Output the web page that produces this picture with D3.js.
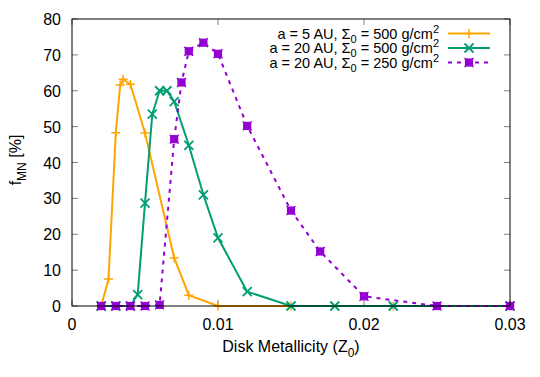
<!DOCTYPE html>
<html>
<head>
<meta charset="utf-8">
<script src="https://cdn.jsdelivr.net/npm/d3@7"></script>
<style>
  body { margin: 0; background: #fff; }
  text { font-family: "Liberation Sans", Arial, sans-serif; }
</style>
</head>
<body>
<script>
'use strict';

// data
const z5_500 = [0.002, 0.0025, 0.003, 0.0033, 0.0035, 0.004, 0.005, 0.007, 0.008, 0.01, 0.015, 0.022, 0.03];
const f5_500 = [0, 7.5, 48.3, 61.6, 63.2, 61.8, 48.2, 13.4, 3, 0, 0, 0, 0];

const z20_500 = [0.002, 0.003, 0.004, 0.0045, 0.005, 0.0055, 0.006, 0.0065, 0.007, 0.008, 0.009, 0.01, 0.012, 0.015, 0.018, 0.022, 0.03];
const f20_500 = [0, 0, 0, 3.2, 28.7, 53.5, 60, 60, 57, 44.8, 31, 19, 4, 0, 0, 0, 0];

const z20_250 = [0.002, 0.003, 0.004, 0.005, 0.006, 0.007, 0.0075, 0.008, 0.009, 0.01, 0.012, 0.015, 0.017, 0.02, 0.025, 0.03];
const f20_250 = [0, 0, 0, 0, 0.3, 46.5, 62.3, 71, 73.4, 70.3, 50.2, 26.6, 15.2, 2.7, 0, 0];

const xTicks = [0, 0.01, 0.02, 0.03];
const yTicks = [0, 10, 20, 30, 40, 50, 60, 70, 80];

const series = [
  { label: ["a = 5 AU, ", "500"], xs: z5_500, ys: f5_500, color: "#ffa500", marker: "plus", dash: null },
  { label: ["a = 20 AU, ", "500"], xs: z20_500, ys: f20_500, color: "#009e73", marker: "cross", dash: null },
  { label: ["a = 20 AU, ", "250"], xs: z20_250, ys: f20_250, color: "#9400d3", marker: "box", dash: "4,5" }
];

const W = 540, H = 377;
const pl = 72, pr = 510, pt = 19, pb = 306;

const svg = d3.select("body").append("svg")
  .attr("width", W).attr("height", H);

const x = d3.scaleLinear().domain([0, 0.03]).range([pl, pr]);
const y = d3.scaleLinear().domain([0, 80]).range([pb, pt]);

// ticks (inside, mirrored)
const tk = 6;
const g = svg.append("g");
xTicks.forEach(v => {
  g.append("line").attr("x1", x(v)).attr("x2", x(v)).attr("y1", pb).attr("y2", pb - tk).attr("stroke", "#808080");
  g.append("line").attr("x1", x(v)).attr("x2", x(v)).attr("y1", pt).attr("y2", pt + tk).attr("stroke", "#808080");
  g.append("text").attr("x", x(v)).attr("y", pb + 24).attr("text-anchor", "middle")
    .attr("font-size", 16).text(v === 0 ? "0" : d3.format(".2f")(v));
});
yTicks.forEach(v => {
  g.append("line").attr("x1", pl).attr("x2", pl + tk).attr("y1", y(v)).attr("y2", y(v)).attr("stroke", "#808080");
  g.append("line").attr("x1", pr).attr("x2", pr - tk).attr("y1", y(v)).attr("y2", y(v)).attr("stroke", "#808080");
  g.append("text").attr("x", pl - 11).attr("y", y(v) + 6).attr("text-anchor", "end")
    .attr("font-size", 16).text(v);
});

// axis titles
svg.append("text").attr("x", (pl + pr) / 2).attr("y", 352).attr("text-anchor", "middle")
  .attr("font-size", 16)
  .call(t => {
    t.append("tspan").text("Disk Metallicity (Z");
    t.append("tspan").attr("font-size", 12).attr("dy", 5).text("0");
    t.append("tspan").attr("dy", -5).text(")");
  });
svg.append("text").attr("transform", "translate(21,160) rotate(-90)")
  .attr("text-anchor", "middle").attr("font-size", 16)
  .call(t => {
    t.append("tspan").text("f");
    t.append("tspan").attr("font-size", 12).attr("dy", 5).text("MN");
    t.append("tspan").attr("dy", -5).text(" [%]");
  });

function drawMarker(sel, type, color, cx, cy) {
  const s = 4.5;
  if (type === "plus") {
    sel.append("path").attr("d", `M${cx - s},${cy}H${cx + s}M${cx},${cy - s}V${cy + s}`)
      .attr("stroke", color).attr("stroke-width", 1.5).attr("fill", "none");
  } else if (type === "cross") {
    sel.append("path").attr("d", `M${cx - s},${cy - s}L${cx + s},${cy + s}M${cx - s},${cy + s}L${cx + s},${cy - s}`)
      .attr("stroke", color).attr("stroke-width", 1.8).attr("fill", "none");
  } else {
    sel.append("rect").attr("x", cx - 3.5).attr("y", cy - 3.5).attr("width", 7).attr("height", 7)
      .attr("fill", color).attr("stroke", color).attr("stroke-width", 1.2);
    sel.append("path").attr("d", `M${cx - s},${cy - s}L${cx + s},${cy + s}M${cx - s},${cy + s}L${cx + s},${cy - s}`)
      .attr("stroke", color).attr("stroke-width", 1.2);
  }
}

const line = d3.line().x(d => x(d[0])).y(d => y(d[1]));

series.forEach(s => {
  const pts = s.xs.map((v, i) => [v, s.ys[i]]);
  svg.append("path").datum(pts).attr("d", line)
    .attr("fill", "none").attr("stroke", s.color).attr("stroke-width", 2)
    .attr("stroke-dasharray", s.dash);
  const mg = svg.append("g");
  pts.forEach(p => drawMarker(mg, s.marker, s.color, x(p[0]), y(p[1])));
});

// border
svg.append("rect").attr("x", pl).attr("y", pt).attr("width", pr - pl).attr("height", pb - pt)
  .attr("fill", "none").attr("stroke", "#000").attr("stroke-width", 1);

// legend
series.forEach((s, i) => {
  const ly = 33.5 + i * 14.5;
  const t = svg.append("text").attr("x", 439).attr("y", ly + 5).attr("text-anchor", "end").attr("font-size", 14.5);
  t.append("tspan").text(s.label[0] + "\u03A3");
  t.append("tspan").attr("font-size", 11).attr("dy", 4).text("0");
  t.append("tspan").attr("dy", -4).text(" = " + s.label[1] + " g/cm");
  t.append("tspan").attr("font-size", 11).attr("dy", -6).text("2");
  svg.append("line").attr("x1", 448).attr("x2", 490).attr("y1", ly).attr("y2", ly)
    .attr("stroke", s.color).attr("stroke-width", 2).attr("stroke-dasharray", s.dash);
  drawMarker(svg, s.marker, s.color, 469, ly);
});
</script>
</body>
</html>
